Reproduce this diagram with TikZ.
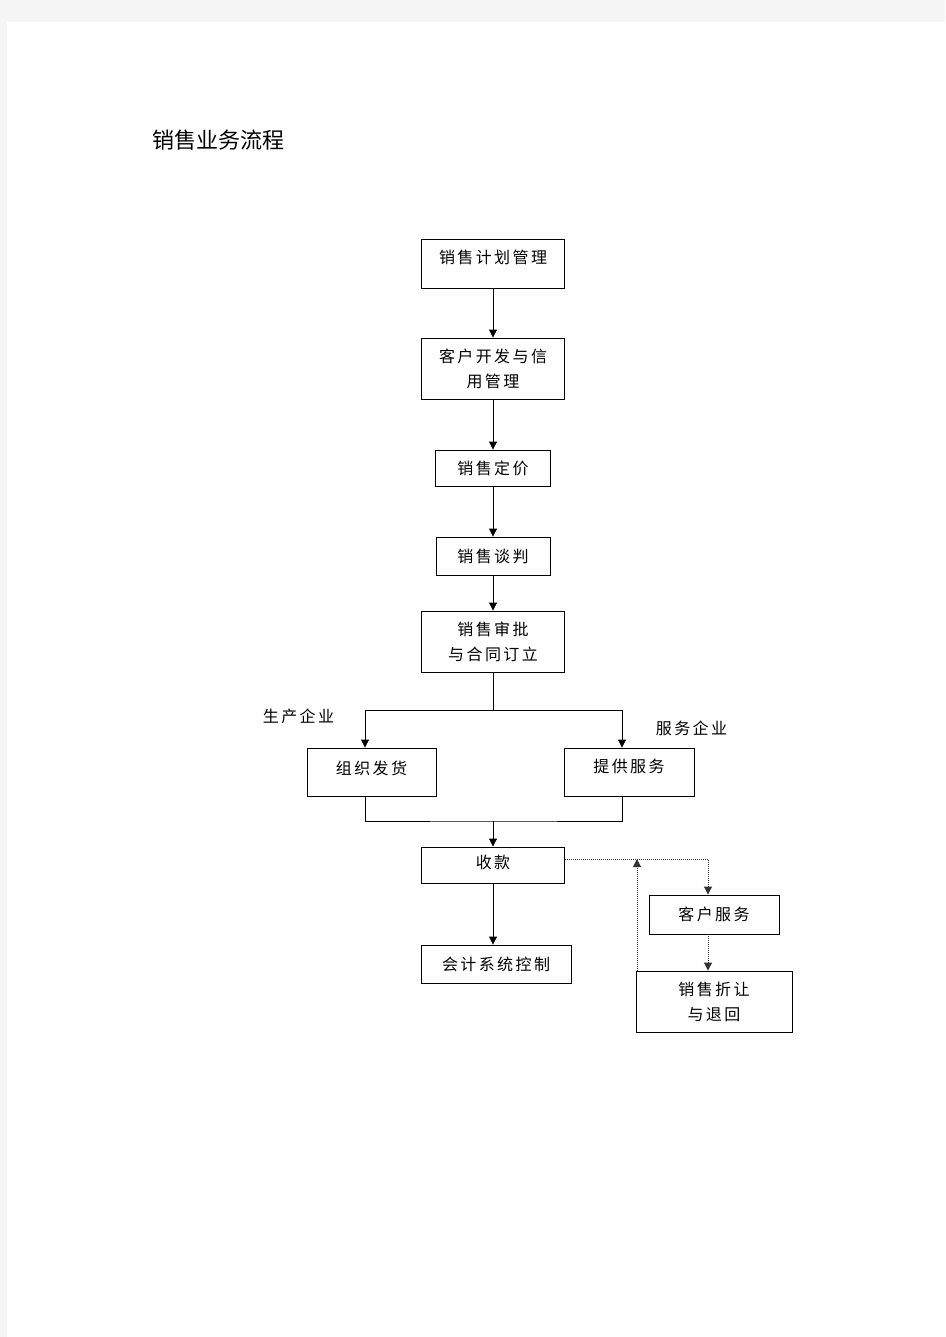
\documentclass[tikz,border=0pt]{standalone}
\usepackage{fontspec}
\newfontfamily\cjk[LetterSpace=15]{Noto Sans CJK SC}
\newfontfamily\cjktitle{Noto Sans CJK SC}
\usepackage{xcolor}
\usetikzlibrary{arrows.meta}
\definecolor{pagegray}{HTML}{F5F5F5}

\begin{document}
\begin{tikzpicture}[x=1pt, y=-1pt,
  box/.style 2 args={draw, line width=0.9pt, inner sep=0pt,
              minimum width=#1pt, minimum height=#2pt, align=center,
              font=\cjk\fontsize{16}{25}\selectfont},
  lift/.style={text depth=#1},
  tag/.style={inner sep=0pt, font=\cjk\fontsize{16}{25}\selectfont},
  flow/.style={line width=0.9pt},
  dotflow/.style={line width=1pt, black!80, dash pattern=on 1pt off 1pt},
  >={Triangle[length=8pt,width=8pt]}
]
  % page
  \fill[pagegray] (0,0) rectangle (945,1337);
  \fill[white] (7,22) rectangle (945,1337);
  \useasboundingbox (0,0) rectangle (945,1337);

  \node[anchor=west, inner sep=0pt, font=\cjktitle\fontsize{22}{26}\selectfont] (title) at (152,140) {销售业务流程};

  \node[box={143}{49}, lift=13pt] (plan)    at (493, 263.5) {销售计划管理};
  \node[box={143}{61}]            (dev)     at (493, 368.5) {客户开发与信\\用管理};
  \node[box={115}{36}]            (price)   at (493, 468)   {销售定价};
  \node[box={114}{38}]            (nego)    at (493, 556)   {销售谈判};
  \node[box={143}{61}]            (approve) at (493, 641.5) {销售审批\\与合同订立};
  \node[box={129}{48}, lift=8pt]  (ship)    at (371.5, 772) {组织发货};
  \node[box={130}{48}, lift=13pt] (service) at (629, 772)   {提供服务};
  \node[box={143}{36}, lift=6pt]  (receipt) at (493, 865)   {收款};
  \node[box={150}{38}]            (acct)    at (496, 964)   {会计系统控制};
  \node[box={130}{39}]            (custsvc) at (714, 914.5) {客户服务};
  \node[box={156}{61}]            (rebate)  at (714, 1001.5) {销售折让\\与退回};

  \node[tag] (prodlbl) at (298.5, 716) {生产企业};
  \node[tag] (servlbl) at (691.5, 728) {服务企业};

  \coordinate (fork) at (493, 710);
  \coordinate (join) at (493, 821);
  \coordinate (ret)  at (637, 859);

  \draw[flow,->] (plan)  -- (dev);
  \draw[flow,->] (dev)   -- (price);
  \draw[flow,->] (price) -- (nego);
  \draw[flow,->] (nego)  -- (approve);
  \draw[flow] (approve) -- (fork);
  \draw[flow,->] (fork) -| ([xshift=-6.5pt]ship.north);
  \draw[flow,->] (fork) -| ([xshift=-7pt]service.north);
  \draw[flow] ([xshift=-6.5pt]ship.south) |- (join) -| ([xshift=-7pt]service.south);
  \draw[flow,->] (join) -- (receipt);
  \draw[flow,->] (receipt) -- (receipt |- acct.north);

  \draw[dotflow,->] ([yshift=6pt]receipt.east) -| ([xshift=-6pt]custsvc.north);
  \draw[dotflow,->] ([xshift=-6pt]custsvc.south) -- ([xshift=-6pt]rebate.north);
  \draw[dotflow,->] (rebate.north west -| ret) -- (ret);
\end{tikzpicture}
\end{document}
